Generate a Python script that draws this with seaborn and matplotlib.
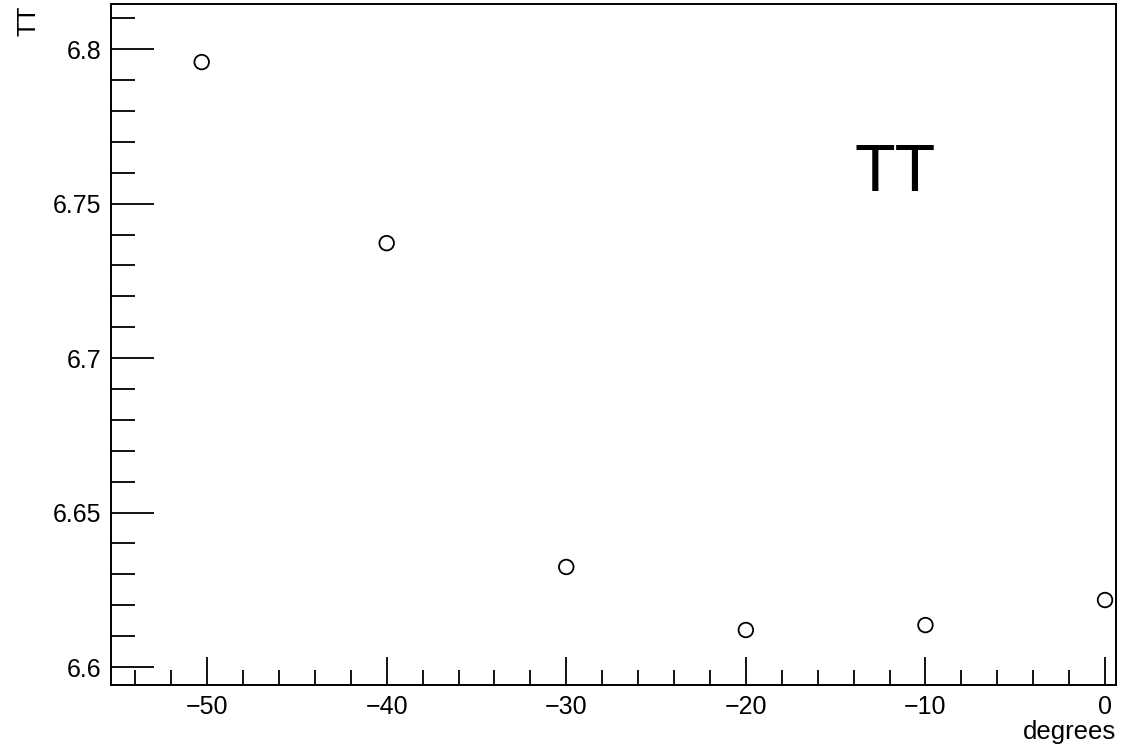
import matplotlib
matplotlib.use("Agg")
import matplotlib.pyplot as plt
from matplotlib.ticker import MultipleLocator, FuncFormatter
import seaborn as sns
import pandas as pd

# Measured values: angle (degrees) vs TT
degrees = [-50.3, -40.0, -30.0, -20.0, -10.0, 0.0]
tt = [6.7958, 6.7372, 6.6324, 6.6120, 6.6136, 6.6217]

sns.set_style("white")
plt.rcParams["font.family"] = ["Liberation Sans", "DejaVu Sans"]
plt.rcParams["text.color"] = "black"
plt.rcParams["xtick.color"] = "black"
plt.rcParams["ytick.color"] = "black"

df = pd.DataFrame({"degrees": degrees, "TT": tt})

fig = plt.figure(figsize=(11.27, 7.5), dpi=100)
ax = fig.add_axes([111 / 1127, 1 - 685 / 750, (1116 - 111) / 1127, (685 - 4) / 750])

sns.scatterplot(data=df, x="degrees", y="TT", ax=ax, marker="o", s=110,
                facecolors="none", edgecolor="black", linewidth=1.3, zorder=3)

ax.set_xlim(-55.35, 0.61)
ax.set_ylim(6.5942, 6.8146)

ax.xaxis.set_major_locator(MultipleLocator(10))
ax.xaxis.set_minor_locator(MultipleLocator(2))
ax.yaxis.set_major_locator(MultipleLocator(0.05))
ax.yaxis.set_minor_locator(MultipleLocator(0.01))

def fmt(v, _pos):
    return ("%g" % round(v, 6)).replace("-", "\u2212")

ax.xaxis.set_major_formatter(FuncFormatter(fmt))
ax.yaxis.set_major_formatter(FuncFormatter(fmt))

ax.tick_params(axis="both", which="both", direction="in", bottom=True, left=True,
               top=False, right=False, color="black", labelcolor="black",
               width=1.3, labelsize=18)
ax.tick_params(axis="x", which="major", length=20, pad=7)
ax.tick_params(axis="x", which="minor", length=11)
ax.tick_params(axis="y", which="major", length=31, pad=7)
ax.tick_params(axis="y", which="minor", length=17)

for sp in ax.spines.values():
    sp.set_color("black")
    sp.set_linewidth(1.4)

ax.set_xlabel("")
ax.set_ylabel("")
fig.text(1116 / 1127, 1 - 732 / 750, "degrees", ha="right", va="center", fontsize=18.5)
fig.text(29 / 1127, 1 - 21 / 750, "TT", ha="center", va="center", fontsize=18, rotation=90)

ax.text(-11.7, 6.7597, "TT", ha="center", va="center", fontsize=48)

fig.savefig("out.png", dpi=100, facecolor="white")
